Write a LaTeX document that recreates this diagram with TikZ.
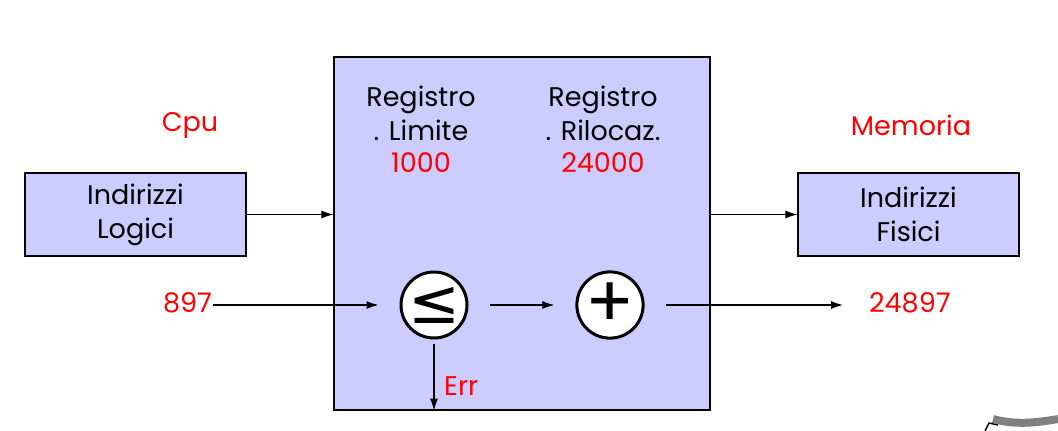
\documentclass[tikz,border=0pt]{standalone}
\usepackage{fontspec}
\setmainfont{Poppins}
\newfontfamily\symbolfont{DejaVu Sans}
\usetikzlibrary{arrows.meta,positioning,calc}
\definecolor{lavender}{RGB}{204,204,255}
\definecolor{scrapgray}{RGB}{128,128,128}

\begin{document}
\begin{tikzpicture}[x=1pt,y=-1pt,% one unit is one pixel of the reference, y runs down
			every node/.style={
				align=center,  		% use this so that the "\\" for line break works
				font=\fontsize{27}{34}\selectfont
			},
			unit/.style={rectangle,draw=black,line width=1.2pt,fill=lavender},
			value/.style={text=red,inner sep=1pt},
			op/.style={circle,draw=black,line width=3pt,fill=white,minimum size=66pt,inner sep=0pt},
			every edge/.style={draw,line width=1.1pt},
			>={Latex[length=12pt,width=8pt]}
		]
		\useasboundingbox (0,0) rectangle (1058,431);
		% the relocation unit and the two address boxes
		\node[unit,minimum width=376pt,minimum height=353pt](MMU) at (522,233.5){};
		\node[unit,minimum width=221pt,minimum height=83pt](Logici) at (135.5,214.5){Indirizzi \\ Logici};
		\node[unit,minimum width=221pt,minimum height=83pt](Fisici) at (908.5,214.5){Indirizzi \\ Fisici};
		\node[value](Cpu) at (190,125){Cpu};
		\node[value](Memoria) at (911,125){Memoria};
		% the two registers
		\node(Limite) at (421,113){Registro \\ . Limite};
		\node[value](LimVal) at (421,163){1000};
		\node(Riloc) at (603,113){Registro \\ . Rilocaz.};
		\node[value](RilVal) at (603,163){24000};
		% compare and add
		\node[op](LE) at (434,305){\symbolfont\fontsize{62}{62}\selectfont ≤};
		\node[op](Plus) at (610,305){\fontsize{72}{72}\selectfont +};
		\node[value,anchor=east](In) at (213,303){897};
		\node[value,anchor=west](Out) at (868,303){24897};
		\coordinate(ErrEnd) at (LE.south |- MMU.south);
		\node[value,anchor=west](Err) at (443,386){Err};
		\path[->]
		(Logici.east) edge [] (Logici.east -| MMU.west)
		(MMU.east |- Fisici.west) edge [] (Fisici.west)
		(In.east |- LE) edge [shorten >=21pt] (LE)
		(LE) edge [shorten <=21pt,shorten >=21pt] (Plus)
		(Plus) edge [shorten <=21pt,shorten >=25pt] (Out.west |- Plus)
		(LE) edge [shorten <=4pt] (ErrEnd)
		;
		% scrap of a drawing cut off at the corner
		\draw[line width=1.5pt] (985,431) -- (989,423) -- (998,425);
		\draw[scrapgray,line width=8pt] (993,419) .. controls (1015,425) and (1035,423) .. (1058,419);
	\end{tikzpicture}
\end{document}
